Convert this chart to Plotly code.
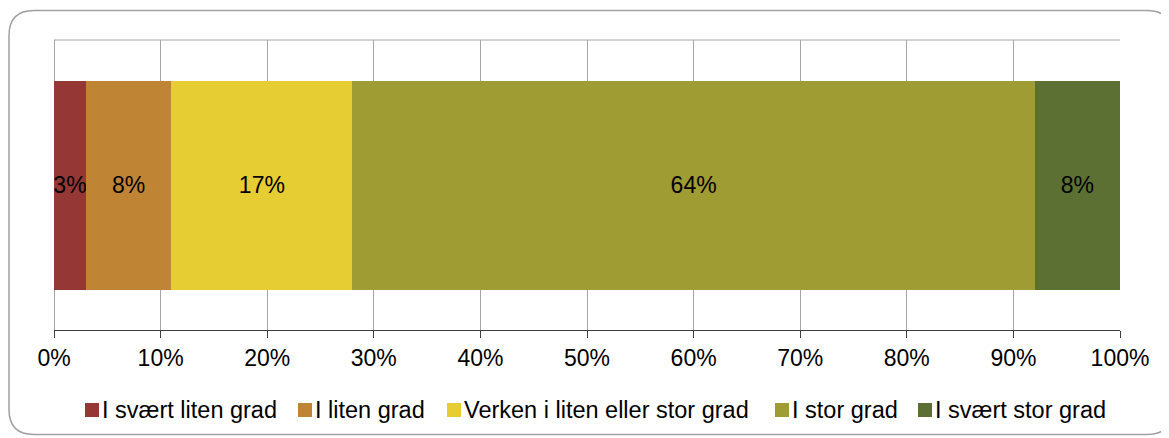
import plotly.graph_objects as go

categories = [""]
series_names = ["I svært liten grad", "I liten grad", "Verken i liten eller stor grad", "I stor grad", "I svært stor grad"]
series_values = [3, 8, 17, 64, 8]
series_colors = ["#953735", "#C08534", "#E6CD34", "#A09C34", "#5C7033"]
tick_vals = [i / 10 for i in range(11)]
tick_text = [f"{i*10}%" for i in range(11)]

# page layout (the page body adds an 8px offset)
OFF = 8
W, H = 1169 - OFF, 438 - OFF
L, T = 54 - OFF, 40 - OFF
R = W - (1120 - OFF)
B = H - (330 - OFF)
pw, ph = W - L - R, H - T - B
FONT = "Liberation Sans, Arial"

def px(x):  # page pixel -> paper x
    return (x - OFF - L) / pw
def py(y):  # page pixel -> paper y
    return (H - B - (y - OFF)) / ph

fig = go.Figure()
for name, val, col in zip(series_names, series_values, series_colors):
    fig.add_trace(go.Bar(
        y=categories, x=[val / 100], name=name, orientation="h",
        marker=dict(color=col, line=dict(width=0)),
        text=[f"{val}%"], textposition="inside", insidetextanchor="middle",
        textangle=0, constraintext="none", cliponaxis=False,
        textfont=dict(family=FONT, size=23, color="black"),
        width=0.7207, showlegend=False,
    ))

# rounded frame
x0, x1, y0, y1, r = 9, 1172, 10.5, 434.5, 25
path = (f"M {px(x0+r)},{py(y0)} L {px(x1-r)},{py(y0)} Q {px(x1)},{py(y0)} {px(x1)},{py(y0+r)} "
        f"L {px(x1)},{py(y1-r)} Q {px(x1)},{py(y1)} {px(x1-r)},{py(y1)} "
        f"L {px(x0+r)},{py(y1)} Q {px(x0)},{py(y1)} {px(x0)},{py(y1-r)} "
        f"L {px(x0)},{py(y0+r)} Q {px(x0)},{py(y0)} {px(x0+r)},{py(y0)} Z")

shapes = [
    dict(type="line", xref="paper", yref="paper", x0=0, x1=1, y0=1, y1=1,
         line=dict(color="#A6A6A6", width=1)),
    dict(type="path", xref="paper", yref="paper", path=path,
         line=dict(color="#A0A0A0", width=1.5), fillcolor="rgba(0,0,0,0)"),
]

# custom legend (square left edges in page px)
legend_x = [85, 298, 447, 775, 918]
legend_y = 410
sq = 14
annotations = []
for name, col, lx in zip(series_names, series_colors, legend_x):
    shapes.append(dict(type="rect", xref="paper", yref="paper",
                       x0=px(lx), x1=px(lx + sq), y0=py(legend_y - sq / 2), y1=py(legend_y + sq / 2),
                       fillcolor=col, line=dict(width=0)))
    annotations.append(dict(xref="paper", yref="paper", x=px(lx + sq + 1), y=py(legend_y),
                            xanchor="left", yanchor="middle", showarrow=False, text=name,
                            font=dict(family=FONT, size=23.5, color="black")))

fig.update_layout(
    width=W, height=H, barmode="stack",
    margin=dict(l=L, r=R, t=T, b=B),
    plot_bgcolor="white", paper_bgcolor="white",
    font=dict(family=FONT, size=23, color="black"),
    showlegend=False,
    xaxis=dict(range=[0, 1], tickvals=tick_vals, ticktext=tick_text,
               showgrid=True, gridcolor="#A6A6A6", gridwidth=1,
               zeroline=True, zerolinecolor="#A6A6A6", zerolinewidth=1,
               showline=True, linecolor="#404040", linewidth=1,
               ticks="outside", ticklen=7, tickcolor="#404040",
               tickfont=dict(family=FONT, size=23, color="black")),
    yaxis=dict(range=[-0.5, 0.5], showticklabels=False, showgrid=False, zeroline=False),
    shapes=shapes,
    annotations=annotations,
)

fig.write_html("out.html")
